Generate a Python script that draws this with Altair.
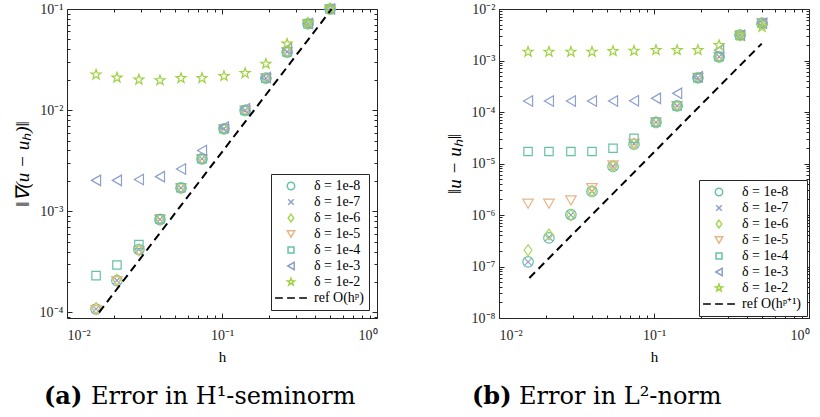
import altair as alt
import pandas as pd

# ---------------- data ----------------
h = [0.0154, 0.0210, 0.0291, 0.0398, 0.0544, 0.0743, 0.103, 0.141, 0.192, 0.263, 0.359, 0.498]
deltas = ["δ = 1e-8", "δ = 1e-7", "δ = 1e-6", "δ = 1e-5", "δ = 1e-4", "δ = 1e-3", "δ = 1e-2"]

# (a) H1-seminorm error
h1_d8 = [1.08e-4, 2.06e-4, 4.18e-4, 8.28e-4, 1.70e-3, 3.30e-3, 6.53e-3, 9.93e-3, 2.07e-2, 3.75e-2, 7.15e-2, 0.100]
h1_d7 = [1.08e-4, 2.07e-4, 4.20e-4, 8.30e-4, 1.70e-3, 3.30e-3, 6.55e-3, 9.95e-3, 2.07e-2, 3.76e-2, 7.15e-2, 0.100]
h1_d6 = [1.10e-4, 2.10e-4, 4.15e-4, 8.30e-4, 1.70e-3, 3.30e-3, 6.50e-3, 9.95e-3, 2.07e-2, 3.76e-2, 7.15e-2, 0.100]
h1_d5 = [1.05e-4, 2.04e-4, 4.04e-4, 8.20e-4, 1.68e-3, 3.25e-3, 6.45e-3, 9.90e-3, 2.06e-2, 3.74e-2, 7.10e-2, 0.099]
h1_d4 = [2.31e-4, 2.94e-4, 4.68e-4, 8.40e-4, 1.71e-3, 3.30e-3, 6.55e-3, 9.95e-3, 2.07e-2, 3.76e-2, 7.15e-2, 0.100]
h1_d3 = [2.02e-3, 2.02e-3, 2.06e-3, 2.20e-3, 2.62e-3, 3.99e-3, 6.79e-3, 1.03e-2, 2.10e-2, 4.05e-2, 7.20e-2, 0.100]
h1_d2 = [0.0224, 0.0209, 0.0200, 0.0197, 0.0207, 0.0207, 0.0217, 0.0232, 0.0287, 0.0453, 0.0731, 0.1007]
ref_h1_h = [0.0161, 0.510]
ref_h1_e = [1.0e-4, 0.100]

# (b) L2-norm error
l2_d8 = [1.23e-7, 3.59e-7, 1.02e-6, 2.87e-6, 8.75e-6, 2.37e-5, 6.30e-5, 1.31e-4, 4.62e-4, 1.18e-3, 3.10e-3, 5.30e-3]
l2_d7 = [1.23e-7, 3.70e-7, 1.00e-6, 2.90e-6, 8.80e-6, 2.40e-5, 6.30e-5, 1.31e-4, 4.60e-4, 1.18e-3, 3.10e-3, 5.30e-3]
l2_d6 = [2.07e-7, 4.17e-7, 1.00e-6, 2.90e-6, 8.90e-6, 2.40e-5, 6.30e-5, 1.31e-4, 4.62e-4, 1.18e-3, 3.10e-3, 5.20e-3]
l2_d5 = [1.66e-6, 1.66e-6, 1.92e-6, 3.33e-6, 9.20e-6, 2.40e-5, 6.20e-5, 1.30e-4, 4.60e-4, 1.17e-3, 3.05e-3, 5.30e-3]
l2_d4 = [1.71e-5, 1.71e-5, 1.71e-5, 1.71e-5, 1.98e-5, 3.09e-5, 6.40e-5, 1.31e-4, 4.62e-4, 1.18e-3, 3.10e-3, 5.30e-3]
l2_d3 = [1.63e-4, 1.63e-4, 1.63e-4, 1.63e-4, 1.63e-4, 1.66e-4, 1.84e-4, 2.30e-4, 4.83e-4, 1.59e-3, 3.10e-3, 5.30e-3]
l2_d2 = [1.47e-3, 1.47e-3, 1.47e-3, 1.47e-3, 1.52e-3, 1.54e-3, 1.59e-3, 1.59e-3, 1.59e-3, 1.98e-3, 3.10e-3, 4.49e-3]
ref_l2_h = [0.0157, 0.4955]
ref_l2_e = [6.0e-8, 2.13e-3]

# axis ticks / labels
x_domain = [0.01, 1]
x_major = [0.01, 0.1, 1]
x_major_labels = ["10⁻²", "10⁻¹", "10⁰"]
y1_domain = [8.8e-5, 0.1]
y1_major = [1e-4, 1e-3, 1e-2, 1e-1]
y1_major_labels = ["10⁻⁴", "10⁻³", "10⁻²", "10⁻¹"]
y2_domain = [1e-8, 1e-2]
y2_major = [1e-8, 1e-7, 1e-6, 1e-5, 1e-4, 1e-3, 1e-2]
y2_major_labels = ["10⁻⁸", "10⁻⁷", "10⁻⁶", "10⁻⁵", "10⁻⁴", "10⁻³", "10⁻²"]

# ---------------- styles ----------------
colors = ["#66c2a5", "#8da0cb", "#a6d854", "#e8b585", "#66c2a5", "#8da0cb", "#9fd143"]
STAR = ("M0,-1L0.235,-0.324L0.951,-0.309L0.380,0.124L0.588,0.809L0,0.4"
        "L-0.588,0.809L-0.380,0.124L-0.951,-0.309L-0.235,-0.324Z")
shapes = ["circle",
          "M-0.75,-0.75L0.75,0.75M-0.75,0.75L0.75,-0.75",
          "M0,-1.05L0.75,0L0,1.05L-0.75,0Z",
          "triangle-down",
          "M-0.8,-0.8L0.8,-0.8L0.8,0.8L-0.8,0.8Z",
          "triangle-left",
          STAR]
DASH = "M-4.3,0L-2.2,0M-1.05,0L1.05,0M2.2,0L4.3,0"
AX = "#262626"
FONT = "Liberation Serif"
CAPFONT = "DejaVu Serif"


def minor_ticks(lo, hi):
    out = []
    e = -12
    while 10.0 ** e <= hi * 1.0001:
        for m in range(1, 10):
            v = float(f"{m}e{e}")
            if lo * 0.9999 <= v <= hi * 1.0001:
                out.append(v)
        e += 1
    return out


def label_expr(vals, labs):
    expr = "''"
    for v, l in reversed(list(zip(vals, labs))):
        expr = f"(abs(datum.value/{v!r} - 1) < 1e-6 ? '{l}' : {expr})"
    return expr


MAJOR_TEST = "abs(log(datum.value)/LN10 - round(log(datum.value)/LN10)) < 1e-6"
TICK = {"condition": {"test": MAJOR_TEST, "value": -5}, "value": -3}


def ax(orient, values, labels=None, title=None, **kw):
    common = dict(orient=orient, values=values, tickSize=TICK, grid=False,
                  domainColor=AX, tickColor=AX, labelColor=AX, labelFont=FONT,
                  labelFontSize=14, titleFont=FONT, titleColor="black",
                  titleFontWeight="normal", domainWidth=1, tickWidth=1)
    common.update(kw)
    if labels is None:
        return alt.Axis(labels=False, title=None, **common)
    return alt.Axis(labelExpr=label_expr(*labels), title=title, **common)


def make_panel(errs, ref_h, ref_e, ref_label, ydom, ymaj, ymaj_lab, ytitle,
               tag, caption, leg_offset, tag_x, cap_x):
    rows = [{"h": hv, "err": ev, "series": d}
            for d, e in zip(deltas, errs) for hv, ev in zip(h, e)]
    pts = pd.DataFrame(rows)
    ref = pd.DataFrame({"h": ref_h, "err": ref_e})
    dom = deltas + [ref_label]
    xs = alt.Scale(type="log", domain=x_domain)
    ys = alt.Scale(type="log", domain=ydom)
    xt = minor_ticks(*x_domain)
    yt = minor_ticks(*ydom)

    legend = alt.Legend(title=None, orient="bottom-right", offset=leg_offset,
                        padding=5, strokeColor=AX, fillColor="white",
                        labelFont=FONT, labelFontSize=14, labelColor="black",
                        symbolSize=55, symbolStrokeWidth=1.5, rowPadding=2,
                        symbolOffset=8, labelOffset=16)

    points = alt.Chart(pts).mark_point(filled=False, size=110, strokeWidth=1.2,
                                       opacity=1).encode(
        x=alt.X("h:Q", scale=xs,
                axis=ax("bottom", xt, (x_major, x_major_labels), "h",
                        labelPadding=15, titlePadding=7, titleFontSize=15)),
        y=alt.Y("err:Q", scale=ys,
                axis=ax("left", yt, (ymaj, ymaj_lab), ytitle,
                        labelPadding=9, titlePadding=7, titleFontSize=19,
                        titleFontStyle="italic")),
        color=alt.Color("series:N", scale=alt.Scale(domain=dom, range=colors + ["black"]),
                        legend=legend),
        shape=alt.Shape("series:N", scale=alt.Scale(domain=dom, range=shapes + [DASH]),
                        legend=legend),
    )

    refline = alt.Chart(ref).mark_line(color="black", strokeDash=[8, 5],
                                       strokeWidth=2).encode(
        x=alt.X("h:Q", scale=xs, axis=ax("top", xt)),
        y=alt.Y("err:Q", scale=ys, axis=ax("right", yt)),
    )

    cap = pd.DataFrame({"tag": [tag], "caption": [caption]})
    tag_txt = alt.Chart(cap).mark_text(align="left", baseline="middle", font=CAPFONT,
                                       fontSize=24, fontWeight="bold").encode(
        x=alt.value(tag_x), y=alt.value(388), text="tag:N")
    cap_txt = alt.Chart(cap).mark_text(align="left", baseline="middle", font=CAPFONT,
                                       fontSize=24).encode(
        x=alt.value(cap_x), y=alt.value(388), text="caption:N")

    return alt.layer(points, refline, tag_txt, cap_txt).resolve_axis(
        x="independent", y="independent").properties(width=310, height=309)


left = make_panel([h1_d8, h1_d7, h1_d6, h1_d5, h1_d4, h1_d3, h1_d2],
                  ref_h1_h, ref_h1_e, "ref O(hᵖ)", y1_domain, y1_major,
                  y1_major_labels, "‖∇(u − uₕ)‖", "(a)", "Error in H¹-seminorm", 8,
                  -23, 24)
right = make_panel([l2_d8, l2_d7, l2_d6, l2_d5, l2_d4, l2_d3, l2_d2],
                   ref_l2_h, ref_l2_e, "ref O(hᵖ⁺¹)", y2_domain, y2_major,
                   y2_major_labels, "‖u − uₕ‖", "(b)", "Error in L²-norm", 2,
                   -27, 20)

chart = alt.hconcat(left, right, spacing=66).resolve_scale(
    color="independent", shape="independent").resolve_legend(
    color="independent", shape="independent").properties(
    padding={"left": 12, "top": 0, "right": 0, "bottom": 0}
).configure_view(strokeWidth=0).configure(background="white")

chart.save("out.html", embed_options={"renderer": "svg", "actions": False})
